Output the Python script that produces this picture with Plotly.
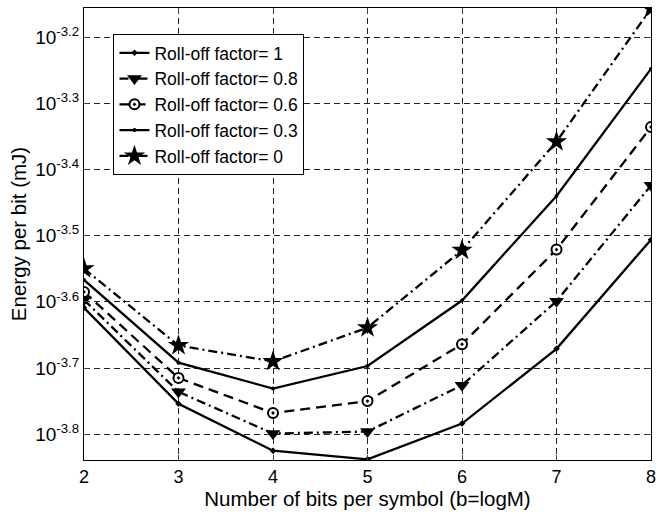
import plotly.graph_objects as go

bits = [2, 3, 4, 5, 6, 7, 8]
# log10 of energy per bit (mJ)
log_r1 = [-3.609, -3.754, -3.825, -3.838, -3.784, -3.671, -3.506]
log_r08 = [-3.597, -3.736, -3.799, -3.796, -3.726, -3.599, -3.424]
log_r06 = [-3.585, -3.715, -3.768, -3.750, -3.664, -3.521, -3.336]
log_r03 = [-3.567, -3.692, -3.731, -3.697, -3.598, -3.440, -3.248]
log_r0 = [-3.550, -3.666, -3.690, -3.639, -3.522, -3.358, -3.157]

names = ["Roll-off factor= 1", "Roll-off factor= 0.8", "Roll-off factor= 0.6",
         "Roll-off factor= 0.3", "Roll-off factor= 0"]
tick_exps = [-3.8, -3.7, -3.6, -3.5, -3.4, -3.3, -3.2]

series = [log_r1, log_r08, log_r06, log_r03, log_r0]
styles = [
    dict(dash="solid", symbol="diamond", size=5, color="black", lw=0),
    dict(dash="9px,4px,2px,4px", symbol="triangle-down", size=13, color="black", lw=0),
    dict(dash="10px,6px", symbol="circle-dot", size=10, color="white", lw=2),
    dict(dash="solid", symbol="circle", size=4, color="black", lw=0),
    dict(dash="9px,4px,2px,4px", symbol="star", size=16, color="black", lw=0),
]

fig = go.Figure()
for name, vals, st in zip(names, series, styles):
    fig.add_trace(go.Scatter(
        x=bits, y=[10 ** v for v in vals], name=name, mode="lines+markers",
        line=dict(color="black", width=2.3, dash=st["dash"]),
        marker=dict(symbol=st["symbol"], size=st["size"], color=st["color"],
                    line=dict(color="black", width=st["lw"])),
    ))

font = "Liberation Sans, Arial, Helvetica, sans-serif"
grid = dict(showgrid=True, gridcolor="#222222", griddash="6px,4px", gridwidth=1)
fig.update_layout(
    width=662, height=513,
    margin=dict(l=84, r=6, t=8, b=53),
    paper_bgcolor="white", plot_bgcolor="white",
    font=dict(family=font, size=18, color="black"),
    showlegend=True,
    legend=dict(x=0.052, y=0.9425, xanchor="left", yanchor="top",
                bgcolor="white", bordercolor="black", borderwidth=1,
                font=dict(size=17.5), tracegroupgap=0),
    xaxis=dict(range=[2, 8], tickvals=bits, ticks="inside", ticklen=5,
               showline=True, linecolor="black", linewidth=1, mirror="ticks",
               zeroline=False, **grid,
               title=dict(text="Number of bits per symbol (b=logM)", standoff=4,
                          font=dict(size=20.5)),
               tickfont=dict(size=18)),
    yaxis=dict(type="log", range=[-3.839, -3.156],
               tickvals=[10 ** e for e in tick_exps],
               ticktext=["10<sup>%s</sup>" % e for e in tick_exps],
               ticks="inside", ticklen=5,
               showline=True, linecolor="black", linewidth=1, mirror="ticks",
               zeroline=False, **grid,
               title=dict(text="Energy per bit (mJ)", standoff=2,
                          font=dict(size=20.5)),
               tickfont=dict(size=19)),
)
fig.write_html("out.html")
